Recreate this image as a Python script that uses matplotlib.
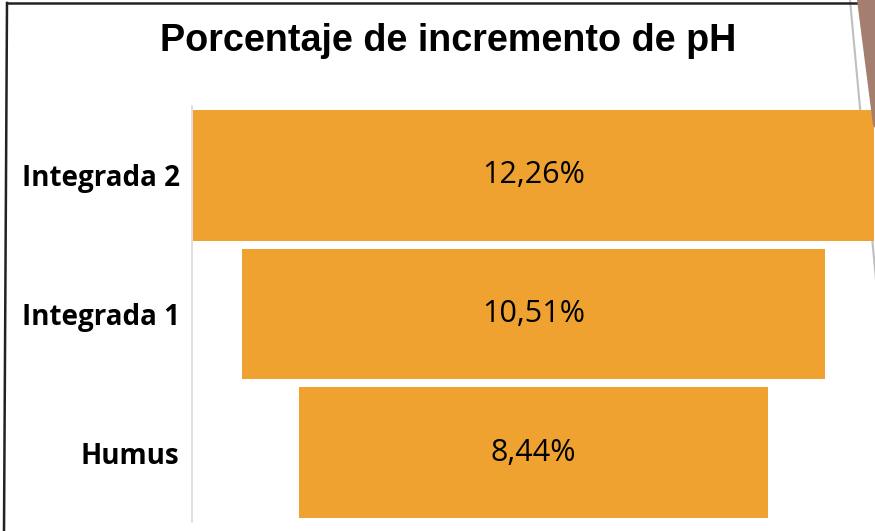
import matplotlib
matplotlib.use("Agg")
import matplotlib.pyplot as plt
from matplotlib.lines import Line2D
from matplotlib.patches import Polygon

# data (bottom to top)
categories = ["Humus", "Integrada 1", "Integrada 2"]
values = [8.44, 10.51, 12.26]
labels = ["8,44%", "10,51%", "12,26%"]

W, H = 875, 531
fig = plt.figure(figsize=[W / 100, H / 100], dpi=100)

# axes in pixel terms: x 192..875, y 106..522
ax = fig.add_axes([192 / W, (H - 522) / H, 683 / W, 416 / H])
ax.set_facecolor("none")

ypos = list(range(len(categories)))
lefts = [-v / 2 for v in values]
ax.barh(ypos, values, left=lefts, height=0.94, color="#EFA22F", zorder=2)

for y, txt in zip(ypos, labels):
    ax.text(0, y, txt, ha="center", va="center",
            fontsize=22, family="Open Sans", color="black", zorder=3)

ax.set_xlim(-6.157, 6.157)
ax.set_ylim(-0.5, 2.5)
ax.set_yticks(ypos)
ax.set_yticklabels(categories, fontsize=20, fontweight="bold", family="Open Sans")
ax.set_xticks([])
ax.tick_params(axis="y", length=0, pad=9)
for t in ax.get_yticklabels():
    t.set_y(t.get_position()[1])
    t.set_verticalalignment("center_baseline")
for s in ["top", "right", "bottom"]:
    ax.spines[s].set_visible(False)
ax.spines["left"].set_color("#D9D9D9")
ax.spines["left"].set_linewidth(1.2)

fig.text(448 / W, 1 - 41 / H, "Porcentaje de incremento de pH",
         ha="center", va="center", fontsize=27.2, fontweight="bold",
         family="Liberation Sans")

# slide frame leftovers
fig.add_artist(Line2D([7 / W, 1], [1 - 3 / H, 1 - 3 / H],
                      color="#222222", lw=1.8, transform=fig.transFigure))
fig.add_artist(Line2D([7 / W, 4 / W], [1 - 3 / H, 0],
                      color="#222222", lw=1.8, transform=fig.transFigure))
fig.add_artist(Line2D([850 / W, 876 / W], [1, 1 - 280 / H],
                      color="#BFBFBF", lw=1.5, transform=fig.transFigure,
                      zorder=-1))
fig.add_artist(Polygon([[857 / W, 1], [1, 1], [1, 1 - 128 / H], [873 / W, 1 - 125 / H]],
                       closed=True, facecolor="#A47E6F", edgecolor="none",
                       transform=fig.transFigure, zorder=5))

fig.savefig("out.png", dpi=100)
